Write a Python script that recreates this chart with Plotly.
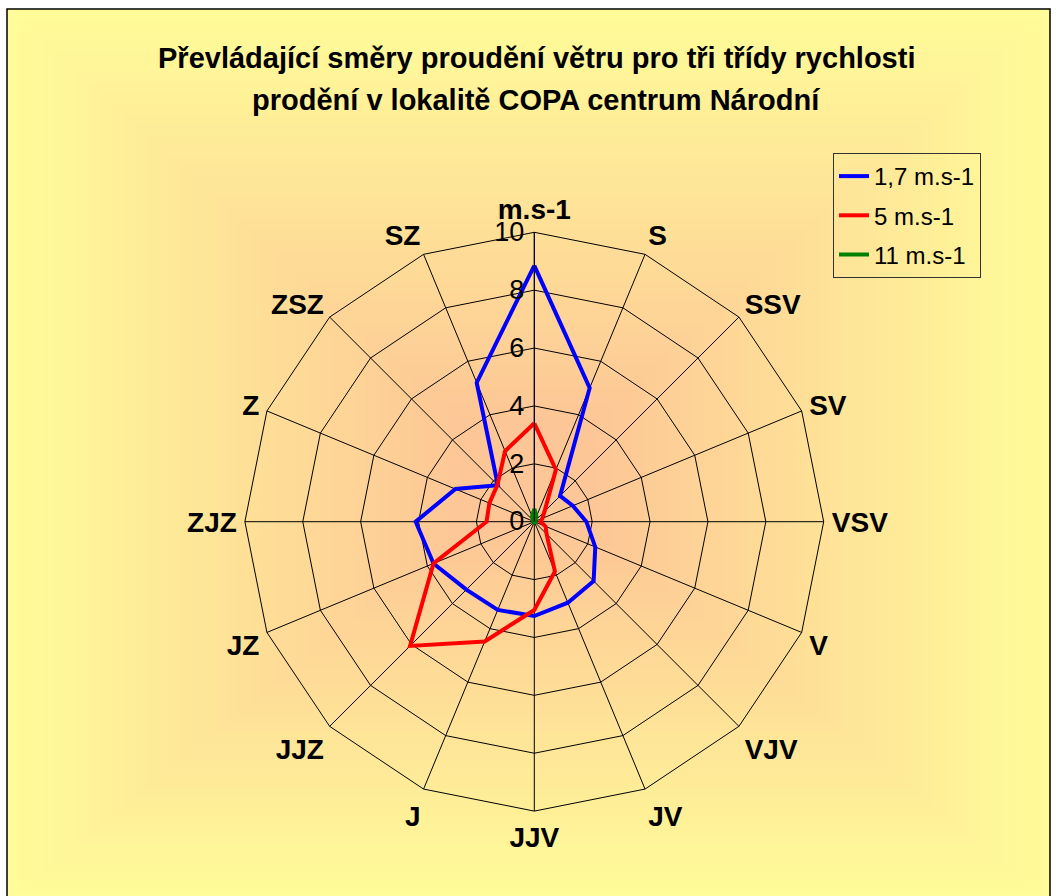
import plotly.graph_objects as go

W, H = 1056, 896

# ---- data ----
directions = ["m.s-1", "S", "SSV", "SV", "VSV", "V", "VJV", "JV",
              "JJV", "J", "JJZ", "JZ", "ZJZ", "Z", "ZSZ", "SZ"]
speed_1_7 = [8.85, 5.0, 1.26, 1.44, 1.8, 2.28, 2.9, 3.03,
             3.26, 3.3, 3.32, 3.77, 4.1, 2.95, 1.78, 5.2]
speed_5 = [3.4, 1.95, 0.5, 0.3, 0.22, 0.42, 0.6, 1.86,
           3.05, 4.48, 6.07, 3.77, 1.65, 1.68, 1.8, 2.64]
speed_11 = [0.45, 0.2, 0.05, 0.03, 0.03, 0.03, 0.03, 0.03,
            0.03, 0.03, 0.03, 0.03, 0.03, 0.03, 0.05, 0.2]
series_names = ["1,7 m.s-1", "5 m.s-1", "11 m.s-1"]
series_colors = ["#0000FF", "#FF0000", "#008000"]
radial_ticks = [0, 2, 4, 6, 8, 10]
title_lines = ["Převládající směry proudění větru pro tři třídy rychlosti",
               "prodění v lokalitě COPA centrum Národní"]

FONT = "Liberation Sans, Arial, sans-serif"

fig = go.Figure()
for name, vals, col in zip(series_names, [speed_1_7, speed_5, speed_11], series_colors):
    fig.add_trace(go.Scatterpolar(
        r=vals + vals[:1], theta=directions + directions[:1],
        mode="lines", name=name, legendgroup=name,
        line=dict(color=col, width=4),
    ))

# ---- background gradient (rectangular, from centre) ----
def px_x(x):
    return x / W

def px_y(y):
    return 1 - y / H

shapes = []
fx0, fx1, fy0, fy1 = 7, 1050, 9, 900
cx, cy = (fx0 + fx1) / 2, 480
edge = (255, 252, 153)
center = (253, 198, 150)
N = 45
for i in range(N):
    t = i / N
    s = 1 - t
    c = tuple(int(round(edge[k] + (center[k] - edge[k]) * min(1.0, t * 1.15))) for k in range(3))
    shapes.append(dict(type="rect", xref="paper", yref="paper", layer="below",
                       x0=px_x(cx - (cx - fx0) * s), x1=px_x(cx + (fx1 - cx) * s),
                       y0=px_y(cy + (fy1 - cy) * s), y1=px_y(cy - (cy - fy0) * s),
                       line=dict(width=0), fillcolor="rgb(%d,%d,%d)" % c))
shapes.append(dict(type="rect", xref="paper", yref="paper", layer="below",
                   x0=px_x(fx0), x1=px_x(fx1), y0=px_y(fy1), y1=px_y(fy0),
                   line=dict(color="black", width=1.5), fillcolor="rgba(0,0,0,0)"))

# ---- polar geometry ----
pcx, pcy, pr = 534.3, 521.7, 289.4

annotations = [
    dict(text="<b>%s</b>" % title_lines[0], x=536 / W, y=px_y(58), xref="paper", yref="paper",
         showarrow=False, xanchor="center", yanchor="middle",
         font=dict(family=FONT, size=29, color="black")),
    dict(text="<b>%s</b>" % title_lines[1], x=536 / W, y=px_y(100), xref="paper", yref="paper",
         showarrow=False, xanchor="center", yanchor="middle",
         font=dict(family=FONT, size=29, color="black")),
]

fig.update_layout(
    width=W, height=H,
    margin=dict(l=0, r=0, t=0, b=0),
    paper_bgcolor="white",
    plot_bgcolor="rgba(0,0,0,0)",
    shapes=shapes,
    annotations=annotations,
    showlegend=True,
    legend=dict(x=833 / W, y=px_y(153), xanchor="left", yanchor="top",
                bgcolor="rgba(0,0,0,0)", bordercolor="#333333", borderwidth=1,
                font=dict(family=FONT, size=24, color="black"),
                tracegroupgap=5),
    polar=dict(
        domain=dict(x=[(pcx - pr) / W, (pcx + pr) / W],
                    y=[1 - (pcy + pr) / H, 1 - (pcy - pr) / H]),
        bgcolor="rgba(0,0,0,0)",
        gridshape="linear",
        angularaxis=dict(type="category", categoryarray=directions,
                         rotation=90, direction="clockwise",
                         showline=True, linecolor="black", linewidth=1,
                         showgrid=True, gridcolor="black", gridwidth=1,
                         ticks="outside", ticklen=2, tickcolor="rgba(0,0,0,0)",
                         tickfont=dict(family=FONT, size=28, color="black", weight="bold")),
        radialaxis=dict(range=[0, 10], tickvals=radial_ticks, angle=90, tickangle=90,
                        side="counterclockwise",
                        showline=True, linecolor="black", linewidth=1,
                        showgrid=True, gridcolor="black", gridwidth=1,
                        ticks="",
                        tickfont=dict(family=FONT, size=27, color="black")),
    ),
)

fig.write_html("out.html", config={"displayModeBar": False},
               post_script="document.body.style.margin='0';document.body.style.overflow='hidden';")
